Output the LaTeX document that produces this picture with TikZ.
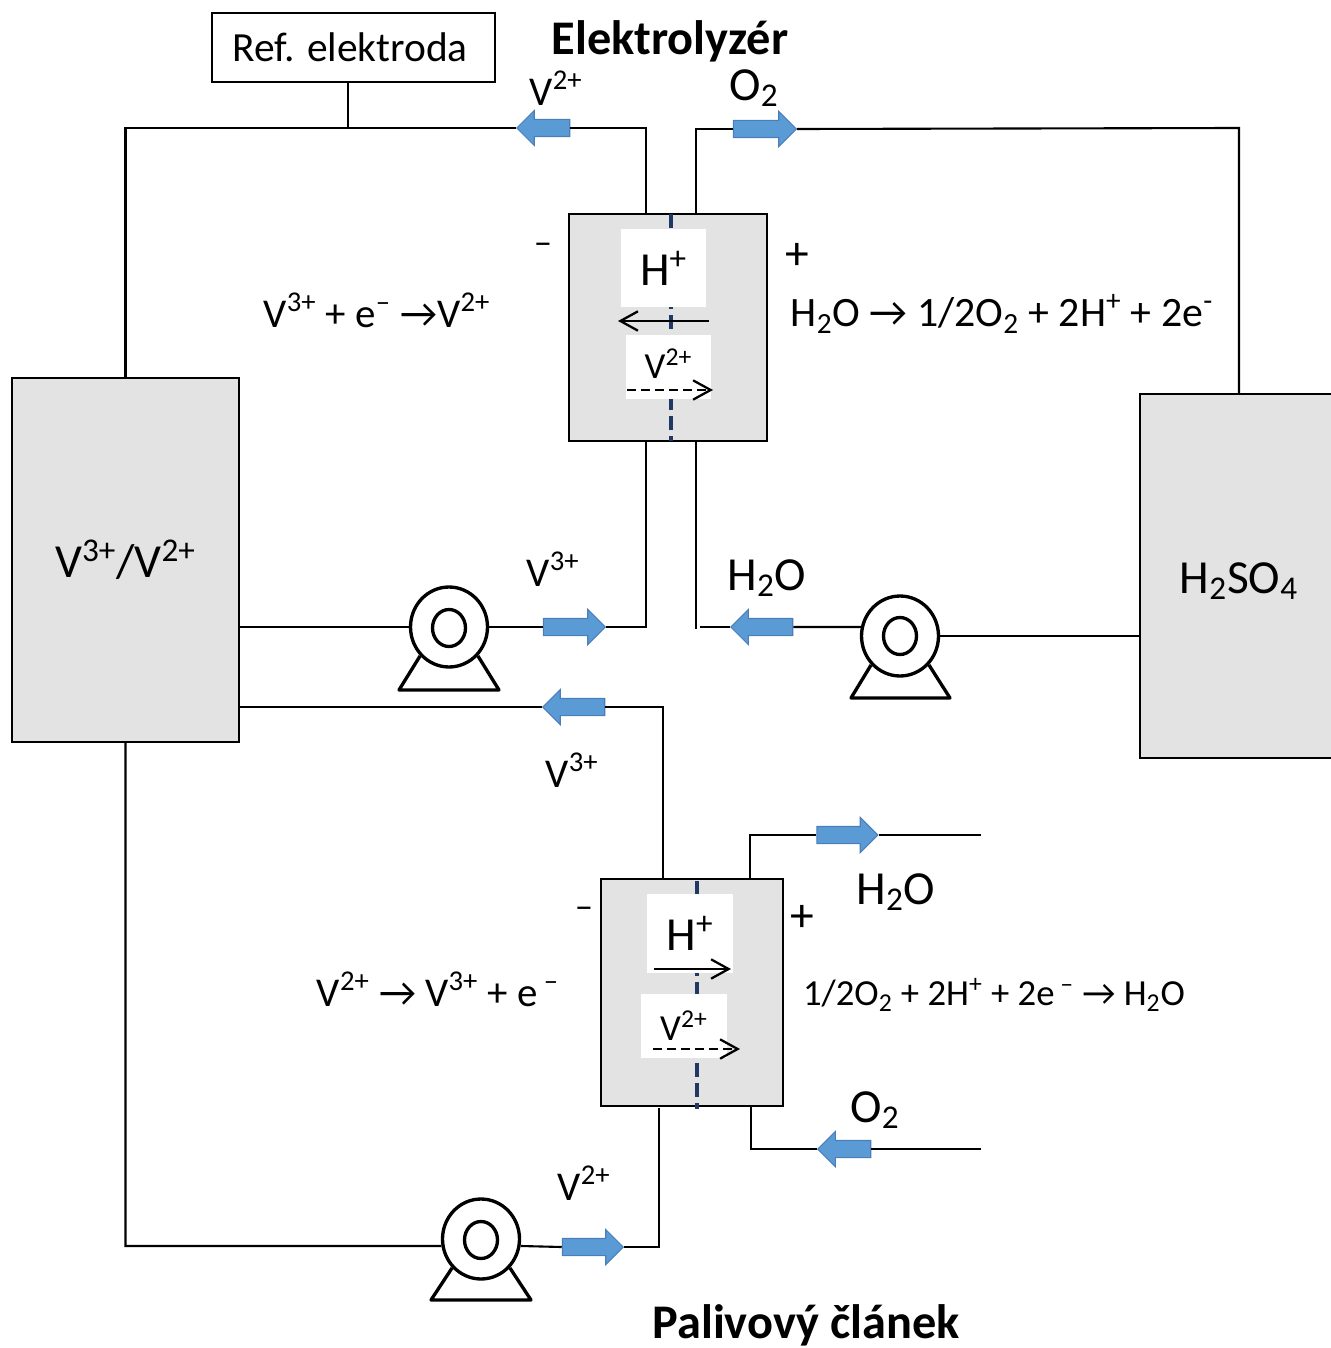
\documentclass[tikz,border=0pt]{standalone}
\usepackage{fontspec}
\usepackage{xcolor}
\setmainfont{Carlito}
\usetikzlibrary{shapes.geometric,shapes.arrows,arrows.meta}

\definecolor{tankgray}{HTML}{E3E3E3}
\definecolor{flowblue}{HTML}{5B9BD5}
\definecolor{flowedge}{HTML}{4A7EBB}
\definecolor{membrane}{HTML}{1F3864}

\newcommand{\bigsize}{\fontsize{27}{31}\selectfont}
\newcommand{\eqsize}{\fontsize{23.3}{27}\selectfont}
\newcommand{\smallsize}{\fontsize{20.9}{25}\selectfont}
\newcommand{\titlesize}{\fontsize{27.5}{32}\selectfont\bfseries}

\tikzset{
    pipe/.style={line width=1.2pt},
    tank/.style={draw, line width=1.4pt, fill=tankgray, rectangle, inner sep=0pt},
    patch/.style={fill=white, rectangle, inner sep=0pt},
    flowright/.style={single arrow, draw=flowedge, fill=flowblue, line width=0.6pt, inner xsep=0pt, inner ysep=0.16cm, single arrow head extend=0.18cm, minimum height=#1},
    flowleft/.style={flowright=#1, shape border rotate=180},
    pumpbody/.style={draw, ellipse, line width=1.9pt, fill=white, inner sep=0pt, minimum width=1.54cm, minimum height=1.6cm},
    pumpeye/.style={draw, ellipse, line width=1.9pt, inner sep=0pt, minimum width=0.66cm, minimum height=0.74cm},
    ionarrow/.style={->, >={Straight Barb[length=10pt,width=11pt]}, line width=1.3pt},
    membraneline/.style={membrane, line width=1.9pt, dash pattern=on 8pt off 3.5pt},
    label/.style={inner sep=0pt, font=\bigsize},
    eqlabel/.style={inner sep=0pt, font=\eqsize},
}

\begin{document}
\begin{tikzpicture}[x=0.02cm, y=-0.02cm]
        \useasboundingbox (0, 0) rectangle (1330, 1348);

        % Draw the tanks and the reference box
        \node[tank, minimum width=4.54cm, minimum height=7.28cm, font=\bigsize] (vtank) at (125.5, 560) {V\textsuperscript{3+}/V\textsuperscript{2+}};
        \node[tank, minimum width=3.96cm, minimum height=7.28cm] (acidtank) at (1239, 576) {};
        \node[label] (lblacid) at (1239, 581) {H\textsubscript{2}SO\textsubscript{4}};
        \node[draw, line width=1.2pt, rectangle, inner sep=0pt, minimum width=5.66cm, minimum height=1.38cm, font=\fontsize{23.6}{27}\selectfont] (refbox) at (353.5, 47.5) {\hspace{-4pt}Ref. elektroda};

        % Draw the two cells
        \node[tank, minimum width=3.96cm, minimum height=4.54cm] (elcell) at (668, 327.5) {};
        \node[tank, minimum width=3.64cm, minimum height=4.54cm] (fuelcell) at (692, 992.5) {};

        % Draw the membranes
        \draw[membraneline] (671, 214) coordinate (elmemtop) -- (671, 441) coordinate (elmembot);
        \draw[membraneline] (697, 881) coordinate (fuelmemtop) -- (697, 1109) coordinate (fuelmembot);

        % Draw the white patches with the ions
        \node[patch, minimum width=1.7cm, minimum height=1.56cm, font=\bigsize] (elhplus) at (663.5, 268) {H\textsuperscript{+}};
        \node[patch, minimum width=1.7cm, minimum height=1.28cm, font=\smallsize] (elvion) at (668.5, 367) {\raisebox{4pt}{V\textsuperscript{2+}}};
        \node[patch, minimum width=1.72cm, minimum height=1.58cm, font=\bigsize] (fuelhplus) at (690, 933.5) {H\textsuperscript{+}};
        \node[patch, minimum width=1.72cm, minimum height=1.28cm, font=\smallsize] (fuelvion) at (684, 1026) {V\textsuperscript{2+}};

        % Draw the ion arrows
        \coordinate (elhstart) at (709, 321);
        \coordinate (elhend) at (618, 321);
        \coordinate (elvstart) at (627, 390);
        \coordinate (elvend) at (713, 390);
        \coordinate (fuelhstart) at (654, 969);
        \coordinate (fuelhend) at (731, 969);
        \coordinate (fuelvstart) at (653, 1049);
        \coordinate (fuelvend) at (740, 1049);
        \draw[ionarrow] (elhstart) -- (elhend);
        \draw[ionarrow, dash pattern=on 5pt off 3pt] (elvstart) -- (elvend);
        \draw[ionarrow] (fuelhstart) -- (fuelhend);
        \draw[ionarrow, dash pattern=on 5pt off 3pt] (fuelvstart) -- (fuelvend);

        % Draw the pumps
        \node[pumpbody] (pumpa) at (449, 627) {};
        \node[pumpeye] (eyea) at (449, 628) {};
        \node[pumpbody] (pumpb) at (900, 636) {};
        \node[pumpeye] (eyeb) at (900, 636) {};
        \node[pumpbody] (pumpc) at (481, 1239) {};
        \node[pumpeye] (eyec) at (481, 1240) {};
        \draw[line width=1.9pt, line join=round] (pumpa.-135) -- (399, 690) -- (499, 690) -- (pumpa.-45);
        \draw[line width=1.9pt, line join=round] (pumpb.-135) -- (851, 698) -- (950, 698) -- (pumpb.-45);
        \draw[line width=1.9pt, line join=round] (pumpc.-135) -- (431, 1300) -- (531, 1300) -- (pumpc.-45);

        % Draw the flow arrows
        \node[flowleft=1.06cm] (flowvtop) at (547.5, 128) {};
        \node[flowright=1.26cm] (flowotop) at (760.5, 129) {};
        \node[flowright=1.24cm] (flowvthree) at (570, 627) {};
        \node[flowleft=1.24cm] (flowwater) at (766, 627) {};
        \node[flowleft=1.24cm] (flowback) at (578, 707) {};
        \node[flowright=1.22cm] (flowhtwo) at (843, 835) {};
        \node[flowleft=1.06cm] (flowoin) at (848.5, 1149) {};
        \node[flowright=1.22cm] (flowvtwo) at (588.5, 1247) {};

        % Draw the pipes of the electrolyzer
        \coordinate (elnw) at (646, 214);
        \coordinate (elne) at (696, 214);
        \coordinate (elsw) at (646, 441);
        \coordinate (else) at (696, 441);
        \draw[pipe] (elnw) |- (flowvtop.east);
        \draw[pipe] (flowvtop.west) -- (125.5, 128) coordinate (vcorner) -- (vtank.north);
        \draw[pipe] (refbox.south -| 348, 0) -- (348, 128) coordinate (reftee);
        \draw[pipe] (elne) |- (flowotop.west);
        \draw[pipe] (flowotop.east) -- (1239, 128) coordinate (acidcorner) -- (acidtank.north);
        \draw[pipe] (vtank.east |- pumpa.west) -- (pumpa.west);
        \draw[pipe] (pumpa.east) -- (flowvthree.west);
        \draw[pipe] (flowvthree.east) -| (elsw);
        \draw[pipe] (else) -- (696, 629) coordinate (waterend);
        \draw[pipe] (700, 627) coordinate (waterstart) -- (flowwater.west);
        \draw[pipe] (flowwater.east) -- (pumpb.167);
        \draw[pipe] (pumpb.east) -- (acidtank.west |- pumpb.east);

        % Draw the pipes of the fuel cell
        \coordinate (fuelnw) at (663, 879);
        \coordinate (fuelne) at (750, 879);
        \coordinate (fuelsw) at (659, 1108);
        \coordinate (fuelse) at (751, 1106);
        \draw[pipe] (vtank.east |- flowback.west) -- (flowback.west);
        \draw[pipe] (flowback.east) -| (fuelnw);
        \draw[pipe] (fuelne) |- (flowhtwo.west);
        \draw[pipe] (flowhtwo.east) -- (981, 835) coordinate (hwoutend);
        \draw[pipe] (fuelse) |- (flowoin.west);
        \draw[pipe] (flowoin.east) -- (981, 1149) coordinate (oinend);
        \draw[pipe] (fuelsw) |- (flowvtwo.east);
        \draw[pipe] (flowvtwo.west) -- (pumpc.-10);
        \draw[pipe] (pumpc.190) -- (125.5, 1246) coordinate (vbottom) -- (vtank.south);

        % Add the titles
        \node[inner sep=0pt, font=\titlesize] (titleel) at (670, 41) {Elektrolyzér};
        \node[inner sep=0pt, font=\titlesize] (titlefuel) at (806, 1325) {Palivový článek};

        % Add the flow labels
        \node[eqlabel] (lblvtop) at (556, 88) {V\textsuperscript{2+}};
        \node[label] (lblotop) at (754, 88) {O\textsubscript{2}};
        \node[eqlabel] (lblvthree) at (553, 569) {V\textsuperscript{3+}};
        \node[label] (lblwater) at (767, 578) {H\textsubscript{2}O};
        \node[eqlabel] (lblback) at (572, 770) {V\textsuperscript{3+}};
        \node[label] (lblhtwo) at (896, 892) {H\textsubscript{2}O};
        \node[label] (lbloin) at (875, 1110) {O\textsubscript{2}};
        \node[eqlabel] (lblvtwo) at (584, 1183) {V\textsuperscript{2+}};

        % Add the poles
        \node[inner sep=0pt, font=\smallsize] (minusel) at (543, 249) {–};
        \node[label] (plusel) at (797, 256) {+};
        \node[inner sep=0pt, font=\smallsize] (minusfuel) at (584, 913) {–};
        \node[label] (plusfuel) at (802, 918) {+};

        % Add the reactions
        \node[eqlabel] (eqelleft) at (377, 310) {V\textsuperscript{3+} + e\textsuperscript{–} →V\textsuperscript{2+}};
        \node[inner sep=0pt, font=\fontsize{23.8}{27}\selectfont] (eqelright) at (1002, 314) {H\textsubscript{2}O → 1/2O\textsubscript{2} + 2H\textsuperscript{+} + 2e\textsuperscript{-}};
        \node[eqlabel] (eqfuelleft) at (438, 989) {V\textsuperscript{2+} → V\textsuperscript{3+} + e\textsuperscript{ –}};
        \node[font=\smallsize, inner sep=0pt] (eqfuelright) at (994, 995) {1/2O\textsubscript{2} + 2H\textsuperscript{+} + 2e\textsuperscript{ –} → H\textsubscript{2}O};

\end{tikzpicture}
\end{document}
